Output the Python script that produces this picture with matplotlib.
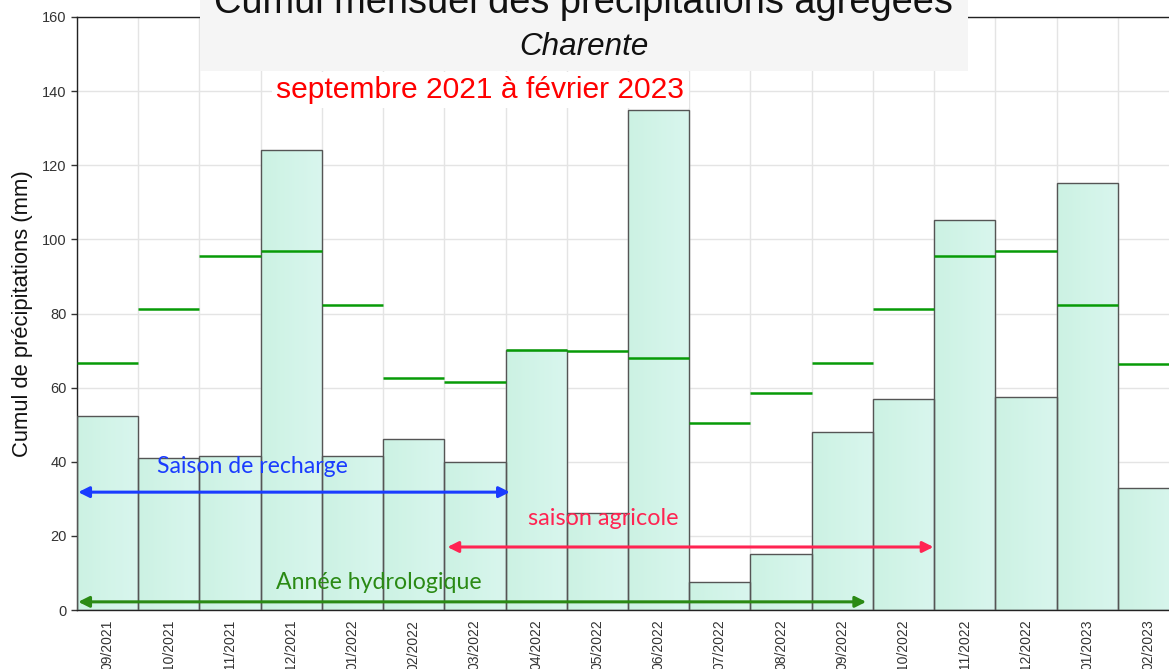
import numpy as np
import matplotlib
matplotlib.use("Agg")
import matplotlib.pyplot as plt
from matplotlib.colors import LinearSegmentedColormap
from matplotlib.patches import Rectangle

# ---------------- data ----------------
months = ["09/2021", "10/2021", "11/2021", "12/2021", "01/2022", "02/2022",
          "03/2022", "04/2022", "05/2022", "06/2022", "07/2022", "08/2022",
          "09/2022", "10/2022", "11/2022", "12/2022", "01/2023", "02/2023"]
cumul = [52.3, 41.0, 41.6, 124.1, 41.6, 46.1, 40.0, 70.2, 26.2, 134.8,
         7.6, 15.1, 48.0, 56.9, 105.2, 57.5, 115.1, 32.9]
normale = [66.6, 81.2, 95.5, 96.9, 82.3, 62.6, 61.5, 70.2, 69.9, 68.0,
           50.5, 58.6, 66.6, 81.2, 95.5, 96.9, 82.3, 66.4]
yticks = [0, 20, 40, 60, 80, 100, 120, 140, 160]

title = "Cumul mensuel des précipitations agrégées"
subtitle = "Charente"
period = "septembre 2021 à février 2023"
ylabel = "Cumul de précipitations (mm)"

# annotations: (text, x_start, x_end, y_arrow, x_text, y_text, color, text width px)
seasons = [
    ("Saison de recharge", -0.48, 6.57, 31.8, 2.36, 38.7, "#1a3cff", 191),
    ("saison agricole", 5.55, 13.49, 17.0, 8.09, 24.6, "#ff2452", 150),
    ("Année hydrologique", -0.48, 12.39, 2.2, 4.43, 7.3, "#2a8a14", 205),
]

# ---------------- figure ----------------
W, H = 1169, 669
fig = plt.figure(figsize=(W / 100, H / 100), dpi=100)
plt.rcParams["font.family"] = ["Liberation Sans", "DejaVu Sans"]

ax = fig.add_axes([77 / W, 59 / H, 1102 / W, 593 / H])
x = np.arange(len(months))
ax.set_xlim(-0.5, len(months) - 0.5)
ax.set_ylim(0, 160)

# grid
ax.set_yticks(yticks)
ax.set_xticks(x - 0.5, minor=True)
ax.grid(True, axis="y", color="#e4e4e4", lw=1.0, zorder=0)
ax.grid(True, axis="x", which="minor", color="#e4e4e4", lw=1.0, zorder=0)
ax.set_axisbelow(True)

# bars with gradient fill
bars = ax.bar(x, cumul, width=1.0, facecolor="none", edgecolor="#555555",
              linewidth=1.0, zorder=3)
cmap = LinearSegmentedColormap.from_list("g", ["#ccf2e3", "#d9f6ee"])
grad = np.linspace(0, 1, 64).reshape(1, -1)
for b in bars:
    x0, w, h = b.get_x(), b.get_width(), b.get_height()
    im = ax.imshow(grad, extent=[x0, x0 + w, 0, h], cmap=cmap, aspect="auto",
                   zorder=2, interpolation="bilinear")
    im.set_clip_path(b)
ax.set_xlim(-0.5, len(months) - 0.5)
ax.set_ylim(0, 160)

# normals
ax.hlines(normale, x - 0.5, x + 0.5, colors="#079b07", lw=1.8, zorder=4)

# ticks
ax.set_xticks(x)
ax.set_xticklabels(months, rotation=90, va="top", fontsize=10, color="#333333")
ax.tick_params(axis="x", which="both", length=0, pad=7)
ax.tick_params(axis="y", length=4.5, width=1, color="#333333", pad=3,
               labelsize=10.5, labelcolor="#333333")

for s in ["left", "bottom", "top"]:
    ax.spines[s].set_color("#222222")
    ax.spines[s].set_linewidth(1.0)
ax.spines["right"].set_visible(False)

# seasons arrows + text
texts_fit = []
for txt, xs, xe, ya, xt, yt, col, wpx in seasons:
    ax.annotate("", xy=(xe, ya), xytext=(xs, ya),
                arrowprops=dict(arrowstyle="<|-|>", color=col, lw=2.2,
                                mutation_scale=16, shrinkA=0, shrinkB=0),
                zorder=6)
    t = ax.text(xt, yt, txt, color=col, ha="center", va="center",
                fontsize=15, family=["Lato", "DejaVu Sans"], zorder=6)
    texts_fit.append((t, wpx, False))

# title box
box = Rectangle((200 / W, 1 - 70.7 / H), 768 / W, 70.7 / H + 0.01,
                transform=fig.transFigure, facecolor="#f5f5f5",
                edgecolor="none", zorder=10, clip_on=False)
fig.patches.append(box)

t1 = fig.text(583 / W, 1 - 13 / H, title, ha="center", va="baseline",
              fontsize=27, color="#111111", zorder=11)
t2 = fig.text(583.5 / W, 1 - 55 / H, subtitle, ha="center", va="baseline",
              fontsize=22, style="italic", color="#111111", zorder=11)
t3 = fig.text(480.5 / W, 1 - 98 / H, period, ha="center", va="baseline",
              fontsize=21, color="#ff0000", zorder=11,
              bbox=dict(facecolor="white", edgecolor="none", pad=3))
t4 = fig.text(23 / W, 1 - 314 / H, ylabel, ha="center", va="center",
              rotation=90, fontsize=15, color="#111111")
texts_fit += [(t1, 740, False), (t2, 129, False), (t3, 409, False), (t4, 288, True)]

# scale text sizes to the measured widths in the reference
fig.canvas.draw()
r = fig.canvas.get_renderer()
for t, wpx, rot in texts_fit:
    bb = t.get_window_extent(r)
    cur = bb.height if rot else bb.width
    if cur > 0:
        t.set_fontsize(t.get_fontsize() * wpx / cur)

fig.savefig("out.png", dpi=100)
